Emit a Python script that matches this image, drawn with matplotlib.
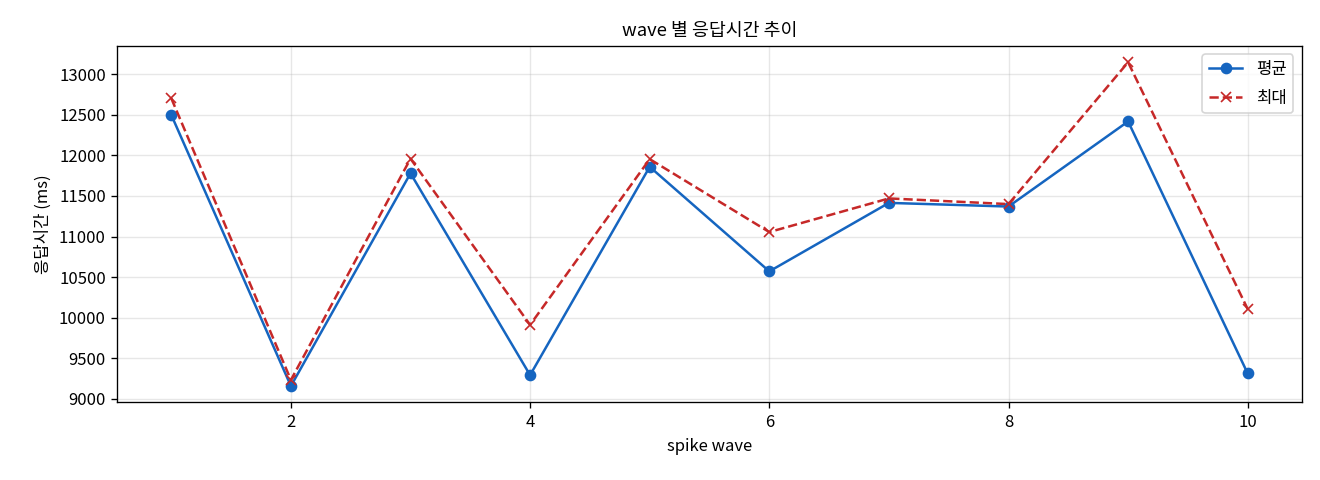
import matplotlib
matplotlib.use("Agg")
import matplotlib.pyplot as plt

plt.rcParams['font.family'] = ['Noto Sans CJK KR', 'DejaVu Sans']

waves = [1, 2, 3, 4, 5, 6, 7, 8, 9, 10]
mean_ms = [12500, 9155, 11780, 9290, 11860, 10570, 11415, 11370, 12420, 9310]
max_ms = [12705, 9230, 11960, 9910, 11955, 11055, 11470, 11400, 13150, 10105]

fig, ax = plt.subplots(figsize=(11, 4), dpi=120)
ax.plot(waves, mean_ms, marker='o', linestyle='-', color='#1565C0', label='평균', markersize=6, linewidth=1.5)
ax.plot(waves, max_ms, marker='x', linestyle='--', color='#C62828', label='최대', markersize=6, linewidth=1.5)
ax.set_title('wave 별 응답시간 추이', fontsize=11)
ax.set_xlabel('spike wave', fontsize=10)
ax.set_ylabel('응답시간 (ms)', fontsize=10)
ax.tick_params(labelsize=10)
ax.grid(True, alpha=0.3)
ax.legend(loc='upper right', fontsize=10, labelspacing=0.7)
fig.subplots_adjust(left=0.089, right=0.986, top=0.904, bottom=0.162)
fig.savefig('out.png', dpi=120)
